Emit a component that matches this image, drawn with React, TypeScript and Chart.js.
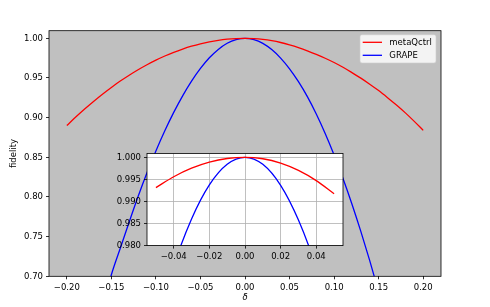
import React, { useEffect, useRef } from "react";
import { Chart, registerables } from "chart.js";
Chart.register(...registerables);

// ---- data ----
const deltas = [
  -0.20, -0.19, -0.18, -0.17, -0.16, -0.15, -0.14, -0.13, -0.12, -0.11,
  -0.10, -0.09, -0.08, -0.07, -0.06, -0.05, -0.04, -0.03, -0.02, -0.01,
  0.00, 0.01, 0.02, 0.03, 0.04, 0.05, 0.06, 0.07, 0.08, 0.09,
  0.10, 0.11, 0.12, 0.13, 0.14, 0.15, 0.16, 0.17, 0.18, 0.19, 0.20,
];
const metaQctrl = [
  0.8900, 0.9007, 0.9109, 0.9205, 0.9296, 0.9381, 0.9461, 0.9535, 0.9604, 0.9667,
  0.9725, 0.9777, 0.9824, 0.9865, 0.9901, 0.99313, 0.9956, 0.99753, 0.9989, 0.99973,
  1.0, 0.99967, 0.99868, 0.99703, 0.99472, 0.99175, 0.9883, 0.9843, 0.9798, 0.9749,
  0.9695, 0.9635, 0.9568, 0.9498, 0.9422, 0.9341, 0.9252, 0.9159, 0.9060, 0.8953, 0.8840,
];
const grape = [
  0.48, 0.53, 0.575, 0.62, 0.66, 0.702, 0.7354, 0.7685, 0.8006, 0.8306,
  0.858, 0.8834, 0.9066, 0.9275, 0.946, 0.962, 0.97544, 0.98605, 0.99376, 0.99843,
  1.0, 0.9984, 0.99364, 0.98578, 0.97504, 0.9615, 0.9453, 0.9265, 0.9046, 0.8801,
  0.853, 0.8233, 0.7912, 0.7566, 0.7197, 0.6805, 0.64, 0.60, 0.55, 0.50, 0.45,
];
const mainXTicks = [-0.2, -0.15, -0.1, -0.05, 0, 0.05, 0.1, 0.15, 0.2];
const mainYTicks = [0.7, 0.75, 0.8, 0.85, 0.9, 0.95, 1.0];
const insetXTicks = [-0.04, -0.02, 0, 0.02, 0.04];
const insetYTicks = [0.98, 0.985, 0.99, 0.995, 1.0];
const seriesLabels = ["metaQctrl", "GRAPE"];
const seriesColors = ["#ff0000", "#0000ff"];

const FONT = "'DejaVu Sans', sans-serif";
const FS = 8.5;
Chart.defaults.font.family = FONT;
Chart.defaults.font.size = FS;
Chart.defaults.color = "#000";

const fmt = (v: number, d: number) => v.toFixed(d).replace("-", "\u2212");

const bgPlugin = (color: string) => ({
  id: "bg",
  beforeDraw(chart: any) {
    const { ctx, chartArea: a } = chart;
    ctx.save();
    ctx.fillStyle = color;
    ctx.fillRect(a.left, a.top, a.right - a.left, a.bottom - a.top);
    ctx.restore();
  },
});
const spinePlugin = {
  id: "spine",
  afterDatasetsDraw(chart: any) {
    const { ctx, chartArea: a } = chart;
    ctx.save();
    ctx.strokeStyle = "#000";
    ctx.lineWidth = 0.8;
    ctx.strokeRect(a.left, a.top, a.right - a.left, a.bottom - a.top);
    ctx.restore();
  },
};
const legendPlugin = {
  id: "boxLegend",
  afterDraw(chart: any) {
    const { ctx, chartArea: a } = chart;
    const w = 76, h = 28.3;
    const x = a.right - 5 - w, y = a.top + 4;
    ctx.save();
    ctx.beginPath();
    (ctx as any).roundRect(x, y, w, h, 2);
    ctx.fillStyle = "rgba(255,255,255,0.8)";
    ctx.fill();
    ctx.strokeStyle = "rgba(204,204,204,0.8)";
    ctx.lineWidth = 0.8;
    ctx.stroke();
    chart.data.datasets.forEach((ds: any, i: number) => {
      const ly = y + 7.6 + i * 13;
      ctx.beginPath();
      ctx.moveTo(x + 2.7, ly);
      ctx.lineTo(x + 22, ly);
      ctx.strokeStyle = ds.borderColor;
      ctx.lineWidth = 1.3;
      ctx.stroke();
      ctx.fillStyle = "#000";
      ctx.font = `${FS}px ${FONT}`;
      ctx.textBaseline = "middle";
      ctx.textAlign = "left";
      ctx.fillText(ds.label, x + 29.3, ly);
    });
    ctx.restore();
  },
};

const pts = (ys: number[], lim?: number) =>
  deltas
    .map((d, i) => ({ x: d, y: ys[i] }))
    .filter((p) => lim === undefined || Math.abs(p.x) <= lim + 1e-9);

function makeDatasets(lim?: number) {
  return [metaQctrl, grape].map((ys, i) => ({
    label: seriesLabels[i],
    data: pts(ys, lim),
    borderColor: seriesColors[i],
    backgroundColor: seriesColors[i],
    borderWidth: 1.3,
    pointRadius: 0,
    cubicInterpolationMode: "monotone" as const,
    clip: 0,
    fill: false,
  }));
}

export default function App() {
  const mainRef = useRef<HTMLCanvasElement>(null);
  const insetRef = useRef<HTMLCanvasElement>(null);

  useEffect(() => {
    const main = new Chart(mainRef.current!, {
      type: "line",
      data: { datasets: makeDatasets() },
      options: {
        animation: false,
        responsive: false,
        devicePixelRatio: 1,
        events: [],
        layout: { padding: { left: 0, top: 30.7, right: 49, bottom: 0 } },
        plugins: { legend: { display: false }, tooltip: { enabled: false } },
        scales: {
          x: {
            type: "linear",
            min: -0.22,
            max: 0.22,
            afterBuildTicks: (s: any) => { s.ticks = mainXTicks.map((v) => ({ value: v })); },
            afterFit: (s: any) => { s.height = 30.7; },
            ticks: { callback: (v: any) => fmt(Number(v), 2), padding: 3, maxRotation: 0, autoSkip: false, color: "#000", font: { size: FS } },
            grid: { drawOnChartArea: false, drawTicks: true, tickLength: 3, color: "#000", lineWidth: 0.8 },
            border: { display: false },
            title: { display: true, text: "δ", font: { size: FS, style: "italic" }, color: "#000", padding: { top: 0, bottom: 4.6 } },
          },
          y: {
            type: "linear",
            min: 0.7,
            max: 1.0096,
            afterBuildTicks: (s: any) => { s.ticks = mainYTicks.map((v) => ({ value: v })); },
            afterFit: (s: any) => { s.width = 49; },
            ticks: { callback: (v: any) => fmt(Number(v), 2), padding: 3, autoSkip: false, color: "#000", font: { size: FS } },
            grid: { drawOnChartArea: false, drawTicks: true, tickLength: 3, color: "#000", lineWidth: 0.8 },
            border: { display: false },
            title: { display: true, text: "fidelity", font: { size: FS }, color: "#000", padding: { top: 8.9, bottom: 0 } },
          },
        },
      } as any,
      plugins: [bgPlugin("#c0c0c0"), spinePlugin, legendPlugin],
    });

    const inset = new Chart(insetRef.current!, {
      type: "line",
      data: { datasets: makeDatasets(0.05) },
      options: {
        animation: false,
        responsive: false,
        devicePixelRatio: 1,
        events: [],
        layout: { padding: { left: 0, top: 8.5, right: 7, bottom: 0 } },
        plugins: { legend: { display: false }, tooltip: { enabled: false } },
        scales: {
          x: {
            type: "linear",
            min: -0.055,
            max: 0.055,
            afterBuildTicks: (s: any) => { s.ticks = insetXTicks.map((v) => ({ value: v })); },
            afterFit: (s: any) => { s.height = 24.4; },
            ticks: { callback: (v: any) => fmt(Number(v), 2), padding: 3, maxRotation: 0, autoSkip: false, color: "#000", font: { size: FS } },
            grid: { drawOnChartArea: true, drawTicks: true, tickLength: 3, color: "#b0b0b0", tickColor: "#000", lineWidth: 0.8 },
            border: { display: false },
          },
          y: {
            type: "linear",
            min: 0.98,
            max: 1.00086,
            afterBuildTicks: (s: any) => { s.ticks = insetYTicks.map((v) => ({ value: v })); },
            afterFit: (s: any) => { s.width = 47; },
            ticks: { callback: (v: any) => fmt(Number(v), 3), padding: 3, autoSkip: false, color: "#000", font: { size: FS } },
            grid: { drawOnChartArea: true, drawTicks: true, tickLength: 3, color: "#b0b0b0", tickColor: "#000", lineWidth: 0.8 },
            border: { display: false },
          },
        },
      } as any,
      plugins: [bgPlugin("#ffffff"), spinePlugin],
    });

    return () => {
      main.destroy();
      inset.destroy();
    };
  }, []);

  return (
    <div style={{ position: "absolute", left: 0, top: 0, width: 490, height: 307, background: "#fff" }}>
      <canvas ref={mainRef} width={490} height={307} style={{ position: "absolute", left: 0, top: 0, width: 490, height: 307 }} />
      <canvas ref={insetRef} width={250} height={125} style={{ position: "absolute", left: 100, top: 145, width: 250, height: 125 }} />
    </div>
  );
}
